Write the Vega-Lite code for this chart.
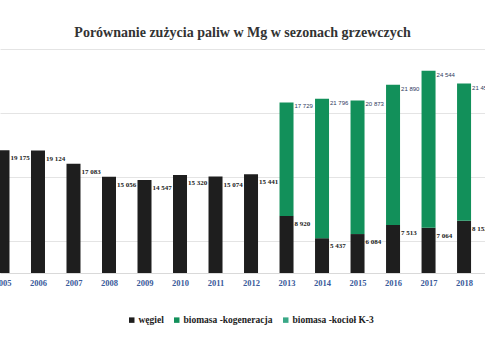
{
  "$schema": "https://vega.github.io/schema/vega-lite/v6.json",
  "width": 485,
  "height": 224,
  "autosize": {"type": "none"},
  "padding": {"left": 0, "right": 0, "top": 49, "bottom": 87},
  "background": "white",
  "config": {
    "view": {"stroke": null},
    "locale": {"number": {"decimal": ",", "thousands": " ", "grouping": [3], "currency": ["", " zł"]}}
  },
  "title": {
    "text": "Porównanie zużycia paliw w Mg w sezonach grzewczych",
    "font": "Liberation Serif",
    "fontSize": 14,
    "fontWeight": "bold",
    "color": "#333333",
    "anchor": "middle",
    "offset": 9
  },
  "data": {
    "values": [
      {"year": 2005, "series": "węgiel", "value": 19175, "ord": 1},
      {"year": 2006, "series": "węgiel", "value": 19124, "ord": 1},
      {"year": 2007, "series": "węgiel", "value": 17083, "ord": 1},
      {"year": 2008, "series": "węgiel", "value": 15056, "ord": 1},
      {"year": 2009, "series": "węgiel", "value": 14547, "ord": 1},
      {"year": 2010, "series": "węgiel", "value": 15320, "ord": 1},
      {"year": 2011, "series": "węgiel", "value": 15074, "ord": 1},
      {"year": 2012, "series": "węgiel", "value": 15441, "ord": 1},
      {"year": 2013, "series": "węgiel", "value": 8920, "ord": 1},
      {"year": 2014, "series": "węgiel", "value": 5437, "ord": 1},
      {"year": 2015, "series": "węgiel", "value": 6084, "ord": 1},
      {"year": 2016, "series": "węgiel", "value": 7513, "ord": 1},
      {"year": 2017, "series": "węgiel", "value": 7064, "ord": 1},
      {"year": 2018, "series": "węgiel", "value": 8152, "ord": 1},
      {"year": 2013, "series": "biomasa -kogeneracja", "value": 17729, "ord": 2},
      {"year": 2014, "series": "biomasa -kogeneracja", "value": 21796, "ord": 2},
      {"year": 2015, "series": "biomasa -kogeneracja", "value": 20873, "ord": 2},
      {"year": 2016, "series": "biomasa -kogeneracja", "value": 21890, "ord": 2},
      {"year": 2017, "series": "biomasa -kogeneracja", "value": 24544, "ord": 2},
      {"year": 2018, "series": "biomasa -kogeneracja", "value": 21450, "ord": 2}
    ]
  },
  "transform": [
    {"stack": "value", "groupby": ["year"], "sort": [{"field": "ord"}], "as": ["v0", "v1"]}
  ],
  "encoding": {
    "x": {
      "field": "year",
      "type": "quantitative",
      "scale": {"domain": [2004.93, 2018.59], "nice": false, "zero": false, "padding": 0},
      "axis": {
        "values": [2005, 2006, 2007, 2008, 2009, 2010, 2011, 2012, 2013, 2014, 2015, 2016, 2017, 2018],
        "format": "d",
        "title": null,
        "grid": false,
        "ticks": false,
        "domainColor": "#d9d9d9",
        "labelFont": "Liberation Serif",
        "labelFontWeight": "bold",
        "labelFontSize": 8.5,
        "labelColor": "#3a5a9a",
        "labelPadding": 5,
        "labelFlush": false,
        "labelOverlap": false
      }
    }
  },
  "layer": [
    {
      "mark": {"type": "bar", "width": 14},
      "encoding": {
        "y": {
          "field": "v0",
          "type": "quantitative",
          "scale": {"domain": [0, 35000], "nice": false},
          "axis": {
            "title": null,
            "labels": false,
            "ticks": false,
            "domain": false,
            "grid": true,
            "gridColor": "#e4e4e4",
            "values": [5000, 10000, 15000, 20000, 25000, 30000, 35000]
          }
        },
        "y2": {"field": "v1"},
        "color": {
          "field": "series",
          "type": "nominal",
          "scale": {
            "domain": ["węgiel", "biomasa -kogeneracja", "biomasa -kocioł K-3"],
            "range": ["#1e1e1e", "#12905a", "#3aa887"]
          },
          "legend": {
            "title": null,
            "orient": "none",
            "direction": "horizontal",
            "legendX": 127,
            "legendY": 266,
            "symbolType": "square",
            "symbolSize": 30,
            "symbolStrokeWidth": 0,
            "labelFont": "Liberation Serif",
            "labelFontWeight": "bold",
            "labelFontSize": 9.5,
            "labelColor": "#222222",
            "labelOffset": 2,
            "columnPadding": 8
          }
        }
      }
    },
    {
      "transform": [{"filter": "datum.series == 'węgiel'"}],
      "mark": {
        "type": "text",
        "align": "left",
        "baseline": "middle",
        "dx": 8,
        "dy": 8,
        "font": "Liberation Serif",
        "fontWeight": "bold",
        "fontSize": 7,
        "color": "#222222"
      },
      "encoding": {
        "y": {"field": "v1", "type": "quantitative"},
        "text": {"field": "value", "type": "quantitative", "format": ",d"}
      }
    },
    {
      "transform": [{"filter": "datum.series == 'biomasa -kogeneracja'"}],
      "mark": {
        "type": "text",
        "align": "left",
        "baseline": "middle",
        "dx": 8,
        "dy": 4,
        "font": "Liberation Sans",
        "fontSize": 6,
        "color": "#2e3a60"
      },
      "encoding": {
        "y": {"field": "v1", "type": "quantitative"},
        "text": {"field": "value", "type": "quantitative", "format": ",d"}
      }
    }
  ]
}
